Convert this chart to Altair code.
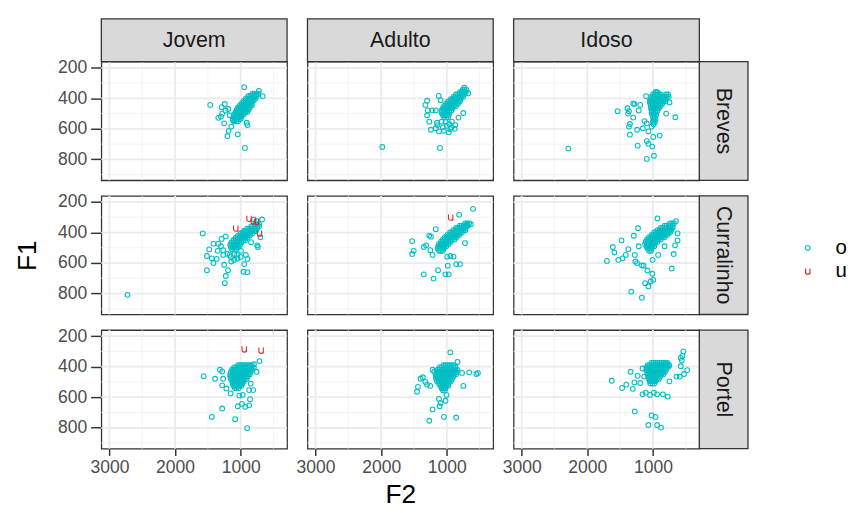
import altair as alt
import pandas as pd

# ---------------- data ----------------
ROWS = ["Breves", "Curralinho", "Portel"]
COLS = ["Jovem", "Adulto", "Idoso"]
X_MAJOR = [3000, 2000, 1000]
X_MINOR = [2500, 1500, 500]
Y_MAJOR = [200, 400, 600, 800]
Y_MINOR = [300, 500, 700, 900]

# (F2, F1) scattered "o" tokens, dense-core "o" tokens by F1 level, and "u" tokens
BJ_out = [(1464,443),(946,327),(936,725),(1044,636),(1202,647),(1183,613),(1252,564),(1341,528),(1282,500),(1242,437),(1291,458),(664,386),(723,352),(758,374),(897,575),(907,560),(1143,585),(1119,543),(1168,511),(1300,520),(1230,480),(1190,470)]
BJ_core = {370:[820,790,760,730],385:[880,850,820,790,760],400:[920,890,860,830,800,770],415:[950,920,890,860,830,800],430:[980,950,920,890,860,830],445:[1010,980,950,920,890,860,830],460:[1040,1010,980,950,920,890,860],475:[1060,1030,1000,970,940,910,880],490:[1080,1050,1020,990,960,930,900],505:[1100,1070,1040,1010,980,950],520:[1110,1080,1050,1020,990],535:[1120,1090,1060,1030,1000],550:[1100,1070,1040]}
BJ_u = []

BA_out = [(1983,719),(1104,725),(733,331),(674,367),(1123,384),(1094,412),(1301,416),(1326,443),(1291,479),(1301,511),(1267,553),(1242,606),(1168,596),(1119,617),(1044,613),(970,623),(946,602),(872,575),(822,526),(748,496),(1217,479),(1168,479),(1079,553),(1143,575),(1020,553),(921,553),(1000,580),(960,570),(930,590),(880,600),(1060,590),(1150,560)]
BA_core = {345:[760,730,700],360:[800,770,740,710],375:[860,830,800,770,740],390:[900,870,840,810,780,750],405:[940,910,880,850,820,790],420:[980,950,920,890,860,830,800],435:[1010,980,950,920,890,860,830],450:[1040,1010,980,950,920,890,860],465:[1060,1030,1000,970,940,910],480:[1080,1050,1020,990,960,930],495:[1080,1050,1020,990,960],510:[1060,1030,1000,970],525:[1040,1010,980]}
BA_u = []

BI_out = [(2289,729),(1538,484),(1390,465),(1380,500),(1366,484),(1301,433),(1282,437),(1217,479),(1193,443),(1301,526),(1351,568),(1366,585),(1351,638),(1242,606),(1153,596),(1094,564),(1129,549),(995,653),(897,644),(1094,680),(1069,697),(1010,716),(1232,710),(1094,797),(985,776),(659,524),(798,500),(748,427),(1104,386),(956,359),(1069,617),(1020,585)]
BI_core = {360:[960,930],375:[1000,970,940,910,880,800,770],390:[1030,1000,970,940,910,880,850,820,790,760],405:[1040,1010,980,950,920,890,860,830,800],420:[1050,1020,990,960,930,900,870,840,810],435:[1040,1010,980,950,920,890,860],450:[1030,1000,970,940,910,880],465:[1030,1000,970,940,910],480:[1020,990,960,930],495:[1020,990,960],510:[1010,980,950],525:[1000,970],540:[990,960],555:[1000,970],570:[990]}
BI_u = []

CJ_out = [(2724,808),(1578,406),(1514,647),(1242,732),(1227,685),(1193,647),(1252,611),(1415,600),(1440,569),(1514,554),(1479,511),(1415,473),(1341,473),(1291,442),(1227,425),(1267,516),(1267,547),(1366,573),(1168,547),(1143,590),(1094,541),(1054,547),(946,607),(956,657),(897,660),(897,573),(921,547),(995,520),(738,495),(748,484),(674,315),(758,325),(798,315),(699,431),(842,463),(1300,490),(1350,520),(1200,540),(1150,560),(1100,580),(1050,570),(1000,560)]
CJ_core = {345:[780,750,720],360:[840,810,780,750,720],375:[900,870,840,810,780,750],390:[950,920,890,860,830,800,770],405:[1000,970,940,910,880,850,820],420:[1040,1010,980,950,920,890,860],435:[1080,1050,1020,990,960,930,900],450:[1110,1080,1050,1020,990,960,930],465:[1140,1110,1080,1050,1020,990],480:[1160,1130,1100,1070,1040,1010],495:[1150,1120,1090,1060,1030],510:[1130,1100,1070]}
CJ_u = [(1075,372),(872,308),(808,325),(759,329),(714,405)]

CA_out = [(600,245),(812,283),(1528,456),(1504,520),(1528,541),(1351,495),(1316,484),(1351,674),(1202,702),(1133,647),(1020,674),(970,674),(985,617),(857,607),(798,607),(897,558),(946,554),(995,558),(1217,547),(1252,516),(1267,420),(1168,378),(1242,427),(699,351),(634,346),(723,469)]
CA_core = {340:[720,690,660],355:[800,770,740,710,680],370:[860,830,800,770,740,710],385:[900,870,840,810,780,750,720],400:[950,920,890,860,830,800,770],415:[990,960,930,900,870,840,810],430:[1030,1000,970,940,910,880,850],445:[1060,1030,1000,970,940,910,880],460:[1090,1060,1030,1000,970,940],475:[1120,1090,1060,1030,1000,970],490:[1130,1100,1070,1040,1010],505:[1140,1110,1080,1050],520:[1120,1090,1060]}
CA_u = [(941,300)]

CI_out = [(1701,586),(1612,495),(1588,531),(1528,579),(1464,569),(1415,547),(1375,509),(1479,452),(1277,547),(1267,590),(1242,600),(1168,615),(1143,617),(1084,649),(1010,670),(995,710),(1035,721),(1119,732),(1069,753),(1331,787),(1168,827),(713,636),(684,541),(664,484),(625,452),(625,406),(931,308),(649,325),(1227,372),(1291,421),(1217,490),(1005,579),(921,547),(822,490)]
CI_core = {340:[740,710,680],355:[820,790,760,730,700],370:[880,850,820,790,760,730,700],385:[930,900,870,840,810,780,750,720],400:[980,950,920,890,860,830,800,770,740],415:[1020,990,960,930,900,870,840,810,780],430:[1060,1030,1000,970,940,910,880,850,820],445:[1090,1060,1030,1000,970,940,910,880],460:[1110,1080,1050,1020,990,960,930],475:[1120,1090,1060,1030,1000,970],490:[1100,1070,1040,1010,980],505:[1080,1050,1020],520:[1060,1030]}
CI_u = []

PJ_out = [(1563,462),(1390,479),(1440,729),(1282,674),(1084,744),(901,803),(1044,659),(980,644),(931,663),(871,653),(857,613),(1020,589),(970,585),(1153,575),(872,553),(807,553),(713,363),(758,433),(798,384),(1267,479),(1282,522),(1217,543),(1316,420),(1282,431),(847,511)]
PJ_core = {390:[1040,1010,980,950,920,890,860,830],405:[1100,1070,1040,1010,980,950,920,890,860,830,800],420:[1130,1100,1070,1040,1010,980,950,920,890,860,830],435:[1150,1120,1090,1060,1030,1000,970,940,910,880,850],450:[1160,1130,1100,1070,1040,1010,980,950,920,890,860],465:[1160,1130,1100,1070,1040,1010,980,950,920,890],480:[1150,1120,1090,1060,1030,1000,970,940,910],495:[1130,1100,1070,1040,1010,980,950],510:[1120,1090,1060,1030,1000,970],525:[1110,1080,1050,1020,990],540:[1090,1060,1030]}
PJ_u = [(946,285),(689,293)]

PA_out = [(946,306),(1454,564),(1440,532),(1400,479),(1366,469),(1326,500),(1301,517),(1252,526),(1217,680),(1267,754),(1044,729),(857,733),(1109,659),(1094,638),(1119,611),(1020,623),(1005,585),(748,526),(659,437),(550,448),(526,441),(768,441),(1217,420),(1193,433),(837,369),(872,395)]
PA_core = {390:[1050,1020,990,960,930,900],405:[1110,1080,1050,1020,990,960,930,900,870],420:[1140,1110,1080,1050,1020,990,960,930,900,870,840],435:[1150,1120,1090,1060,1030,1000,970,940,910,880,850],450:[1160,1130,1100,1070,1040,1010,980,950,920,890,860],465:[1170,1140,1110,1080,1050,1020,990,960,930,900],480:[1160,1130,1100,1070,1040,1010,980,950,920],495:[1150,1120,1090,1060,1030,1000,970,940],510:[1120,1090,1060,1030,1000,970],525:[1100,1070,1040,1010,980],540:[1080,1050,1020],555:[1060,1030]}
PA_u = []

PI_out = [(1628,492),(1470,539),(1406,517),(1341,433),(1307,545),(1282,503),(1233,460),(1193,507),(1158,412),(1134,465),(1158,581),(1109,570),(1045,585),(986,570),(937,581),(848,581),(774,596),(1277,693),(1020,719),(961,729),(1070,782),(937,782),(877,799),(749,496),(641,465),(591,465),(527,448),(478,422),(576,397),(561,359),(551,329),(537,300),(576,342),(798,380),(764,401)]
PI_core = {375:[1020,990,960,930,900,870,840,810,780],390:[1080,1050,1020,990,960,930,900,870,840,810,780,750],405:[1100,1070,1040,1010,980,950,920,890,860,830,800],420:[1100,1070,1040,1010,980,950,920,890,860,830,800],435:[1090,1060,1030,1000,970,940,910,880,850,820],450:[1080,1050,1020,990,960,930,900,870,840],465:[1070,1040,1010,980,950,920,890],480:[1060,1030,1000,970,940,910],495:[1050,1020,990,960],510:[1040,1010,980]}
PI_u = []

PANELS = {
    ("Breves", "Jovem"): (BJ_out, BJ_core, BJ_u),
    ("Breves", "Adulto"): (BA_out, BA_core, BA_u),
    ("Breves", "Idoso"): (BI_out, BI_core, BI_u),
    ("Curralinho", "Jovem"): (CJ_out, CJ_core, CJ_u),
    ("Curralinho", "Adulto"): (CA_out, CA_core, CA_u),
    ("Curralinho", "Idoso"): (CI_out, CI_core, CI_u),
    ("Portel", "Jovem"): (PJ_out, PJ_core, PJ_u),
    ("Portel", "Adulto"): (PA_out, PA_core, PA_u),
    ("Portel", "Idoso"): (PI_out, PI_core, PI_u),
}

# ---------------- style ----------------
FONT = "Liberation Sans"
W, H = 191, 122
STRIP_T, STRIP_R = 44, 50
CYAN, RED = "#00BFC4", "#D62A2A"
U_PATH = "M-0.7,-0.9 L-0.7,0.3 Q-0.7,0.95 0,0.95 Q0.7,0.95 0.7,0.3 M0.7,-0.9 L0.7,1"

xscale = alt.Scale(domain=[293, 3123], reverse=True, nice=False, zero=False)
yscale = alt.Scale(domain=[160, 937], reverse=True, nice=False, zero=False)

legend = alt.Legend(title=None, orient="none", legendX=716, legendY=181,
                    labelFontSize=21, labelColor="black", labelFont=FONT,
                    symbolSize=30, symbolStrokeWidth=1.2, labelOffset=18,
                    rowPadding=2)


def frame(out, core, u):
    rows = [(a, b, "o") for a, b in out]
    rows += [(f2, lvl, "o") for lvl, f2s in core.items() for f2 in f2s]
    rows += [(a, b, "u") for a, b in u]
    return pd.DataFrame(rows, columns=["F2", "F1", "vowel"])


def x_axis(show, title):
    if not show:
        return None
    return alt.Axis(values=X_MAJOR, format="d", grid=False, domain=False, ticks=True, tickSize=7,
                    tickWidth=1.5, tickColor="#333333", labelFontSize=18,
                    labelColor="#4D4D4D", labelFont=FONT, labelPadding=4,
                    labelFlush=False, title=title, titleFontSize=27,
                    titleFontWeight="normal", titleColor="black", titleFont=FONT,
                    titlePadding=5)


def y_axis(show, title):
    if not show:
        return None
    return alt.Axis(values=Y_MAJOR, format="d", grid=False, domain=False, ticks=True, tickSize=11,
                    tickWidth=1.5, tickColor="#333333", labelFontSize=18,
                    labelColor="#4D4D4D", labelFont=FONT, labelPadding=4,
                    labelFlush=False, title=title, titleFontSize=27,
                    titleFontWeight="normal", titleColor="black", titleFont=FONT,
                    titlePadding=17)


def panel(r, c):
    row_name, col_name = ROWS[r], COLS[c]
    xa = x_axis(r == 2, "F2" if c == 1 else None)
    ya = y_axis(c == 0, "F1" if r == 1 else None)

    vmin = alt.Chart(pd.DataFrame({"F2": X_MINOR})).mark_rule(
        color="#F2F2F2", strokeWidth=0.9).encode(x=alt.X("F2:Q", scale=xscale, axis=xa))
    vmaj = alt.Chart(pd.DataFrame({"F2": X_MAJOR})).mark_rule(
        color="#EBEBEB", strokeWidth=1.8).encode(x=alt.X("F2:Q", scale=xscale, axis=xa))
    hmin = alt.Chart(pd.DataFrame({"F1": Y_MINOR})).mark_rule(
        color="#F2F2F2", strokeWidth=0.9).encode(y=alt.Y("F1:Q", scale=yscale, axis=ya))
    hmaj = alt.Chart(pd.DataFrame({"F1": Y_MAJOR})).mark_rule(
        color="#EBEBEB", strokeWidth=1.8).encode(y=alt.Y("F1:Q", scale=yscale, axis=ya))

    pts = alt.Chart(frame(*PANELS[(row_name, col_name)])).mark_point(
        filled=False, strokeWidth=1.1, opacity=1).encode(
        x=alt.X("F2:Q", scale=xscale, axis=xa),
        y=alt.Y("F1:Q", scale=yscale, axis=ya),
        color=alt.Color("vowel:N", scale=alt.Scale(domain=["o", "u"], range=[CYAN, RED]), legend=legend),
        shape=alt.Shape("vowel:N", scale=alt.Scale(domain=["o", "u"], range=["circle", U_PATH]), legend=legend),
        size=alt.Size("vowel:N", scale=alt.Scale(domain=["o", "u"], range=[24, 42]), legend=None),
    )
    layers = [vmin, hmin, vmaj, hmaj, pts]

    if r == 0:
        lab = pd.DataFrame({"s": [col_name]})
        layers.append(alt.Chart(lab).mark_rect(fill="#D9D9D9", stroke="#333333", strokeWidth=1.3).encode(
            x=alt.value(0), x2=alt.value(W), y=alt.value(-STRIP_T), y2=alt.value(0)))
        layers.append(alt.Chart(lab).mark_text(fontSize=22, font=FONT, color="#1A1A1A",
                                               baseline="middle", align="center").encode(
            x=alt.value(W / 2), y=alt.value(-STRIP_T / 2), text="s:N"))
    if c == 2:
        lab = pd.DataFrame({"s": [row_name]})
        layers.append(alt.Chart(lab).mark_rect(fill="#D9D9D9", stroke="#333333", strokeWidth=1.3).encode(
            x=alt.value(W), x2=alt.value(W + STRIP_R), y=alt.value(0), y2=alt.value(H)))
        layers.append(alt.Chart(lab).mark_text(fontSize=22, font=FONT, color="#1A1A1A", angle=90,
                                               baseline="middle", align="center").encode(
            x=alt.value(W + STRIP_R / 2), y=alt.value(H / 2), text="s:N"))

    return alt.layer(*layers).properties(width=W, height=H)


cells = [panel(r, c) for r in range(3) for c in range(3)]

chart = alt.ConcatChart(
    concat=cells, columns=3, spacing={"row": 10, "column": 6},
    padding={"left": 5, "top": 2, "right": 5, "bottom": 0},
).resolve_scale(
    color="shared", shape="shared", size="shared"
).configure(font=FONT).configure_view(stroke="#333333", strokeWidth=1.3)

chart.save("out.html", embed_options={"renderer": "svg", "actions": False})
